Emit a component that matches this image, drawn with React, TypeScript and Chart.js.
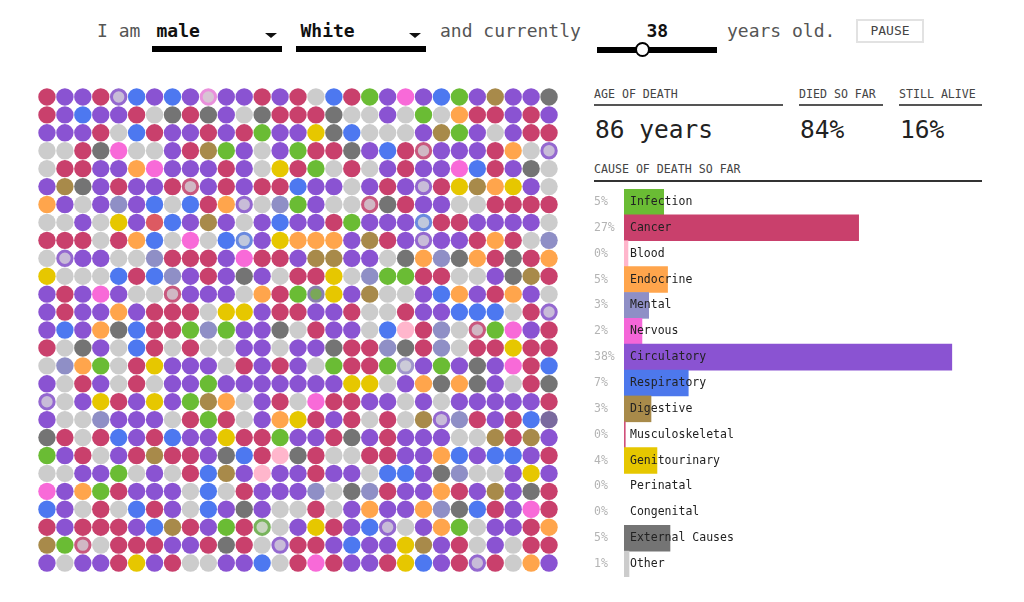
import { useEffect, useRef, CSSProperties } from 'react'
import { Chart, registerables } from 'chart.js'

Chart.register(...registerables)

const MONO = '"DejaVu Sans Mono", monospace'

// one letter per dot, lowercase = dying right now (ring)
const gridRows = [
  'KCCKcBCBCnCCKCKGBKICNCBICDCCX',
  'KCBCCKGXKXCGXKKKXGGCGIGEKKCKC',
  'CCCKGBKCCKCKICCUXBGGGCDICGCKK',
  'GGKXNGGCKDICGCIKKXCBKkCCCKEGc',
  'GKKCCENCCCKCGUKIGKGCKCCNBKCXG',
  'CDXCKCCKkCKCKKBCCGCKCcKUDEUCG',
  'ECGCMCBGBKEcGMICGGkXKCCGGKKKK',
  'GGCGUCRBCDCGCBCCKICCCbKKCCCCG',
  'KKKGKEBGNGBbCUEEECDKCcCCKEKGM',
  'GcCCGGMKKKCNKKCDDCCGXEMXEKXKE',
  'UGGGBKBMCKCXCGKKUGMIIKKGGCXDK',
  'CKCNCGGkCCCGEKIhUCDGGCBECKECG',
  'CKCCECKKKGUUCKKCCKGGKCCBBBGKc',
  'CBCEXBKKIMICCXGKCCGBLKMGkINCK',
  'KGXCGBKGKGGCCGCCXKKMXKMGKKUKK',
  'GMEIGKUCCCGKCKCGIKKImCICXCNKB',
  'CGKCGKGCCICCCCCCCUUGCEXEXCGKX',
  'cGCUKCUCIDEGCKGNKKCCGCGCCCCCK',
  'CGGMCCCGKIKGCEUKCKGKGDcMKCKBQ',
  'XKGKBCKBCCUKKICCKXCKCCCGGDKDC',
  'ICKGCKDKKCXBKLXKGGKKCCEBCBBCK',
  'GGCCIGCGKBDCLCCKCCGBBCXMGGCUC',
  'NCEIKCCCGBGKCCCMGXMKCCEKCDCXK',
  'BCGKGBKCGBCXCGGKGCECCEMXBKCNK',
  'KCKKKCBDKCIKiGCUKCBcGCEIGCCKE',
  'DIkGKKKCCKXKGcKKCBCCUDCKGCGKK',
  'CGCCKUCKGGCCBGKNKCCKUBCKcKGEC',
]

const causes = [
  'Infection', 'Cancer', 'Blood', 'Endocrine', 'Mental', 'Nervous', 'Circulatory', 'Respiratory',
  'Digestive', 'Musculoskeletal', 'Genitourinary', 'Perinatal', 'Congenital', 'External Causes', 'Other',
]
const causeShares = [4.6, 27.2, 0.46, 5.05, 2.86, 2.08, 38, 7.45, 3.13, 0.15, 3.82, 0, 0, 5.33, 0.58]
const causeLabels = ['5%', '27%', '0%', '5%', '3%', '2%', '38%', '7%', '3%', '0%', '4%', '0%', '0%', '5%', '1%']
const causeColors = [
  '#6abc34', '#c9406c', '#ffb6cc', '#ffa54c', '#8f8fc6', '#f466d8', '#8a53d2', '#4d78ec',
  '#a88a4a', '#d0507a', '#e6c700', 'transparent', 'transparent', '#747474', '#cccccc',
]

const dotFill: Record<string, string> = {
  K: '#c9406c', C: '#8a53d2', G: '#cccccc', B: '#4d78f0', I: '#6abc34', E: '#ffa54c', M: '#8f8fc6',
  N: '#f86ad8', D: '#a88a4a', U: '#e6c700', X: '#747474', L: '#ffb6cc', R: '#dd5a62', Q: '#7a6a9e',
  c: '#c8bcd8', k: '#d0b8c4', n: '#d8c4d4', b: '#c0c8dc', i: '#c8d4c0', h: '#7aa858', m: '#cccbd8',
}
const dotRing: Record<string, string> = {
  c: '#9468d0', k: '#c9587e', n: '#ea90dc', b: '#6a8ae0', i: '#78b45c', h: '#8a7fb0', m: '#a096cc',
}

const percentPlugin = {
  id: 'percentLabels',
  afterDraw(chart: Chart) {
    const { ctx, chartArea, scales } = chart
    ctx.save()
    ctx.font = '11.5px ' + MONO
    ctx.fillStyle = '#b4b4b4'
    ctx.textBaseline = 'middle'
    ctx.textAlign = 'left'
    causeLabels.forEach((label, i) => {
      ctx.fillText(label, chartArea.left - 30, scales.y.getPixelForTick(i))
    })
    ctx.restore()
  },
}

const at = (left: number, top: number, extra: CSSProperties = {}): CSSProperties => ({
  position: 'absolute',
  left,
  top,
  whiteSpace: 'pre',
  fontFamily: MONO,
  ...extra,
})

const sentence: CSSProperties = { fontSize: 18, lineHeight: '24px', color: '#555' }
const picked: CSSProperties = { fontSize: 18, lineHeight: '24px', color: '#111', fontWeight: 'bold' }
const heading: CSSProperties = { fontSize: 11.6, lineHeight: '14px', color: '#444' }
const bigStat: CSSProperties = { fontSize: 24.5, lineHeight: '30px', color: '#222' }

function Select({ x, label }: { x: number; label: string }) {
  return (
    <>
      <div style={at(x + 4.5, 19, picked)}>{label}</div>
      <div
        style={{
          position: 'absolute', left: x + 113, top: 33, width: 0, height: 0,
          borderLeft: '6.5px solid transparent', borderRight: '6.5px solid transparent', borderTop: '5.5px solid #111',
        }}
      />
      <div style={{ position: 'absolute', left: x, top: 46, width: 130, height: 6, background: '#000' }} />
    </>
  )
}

export default function App() {
  const dotsRef = useRef<HTMLCanvasElement>(null)
  const barsRef = useRef<HTMLCanvasElement>(null)

  useEffect(() => {
    const codes: string[] = []
    const points: { x: number; y: number }[] = []
    gridRows.forEach((row, y) => {
      row.split('').forEach((code, x) => {
        codes.push(code)
        points.push({ x, y })
      })
    })

    const dots = new Chart(dotsRef.current!, {
      type: 'scatter',
      data: {
        datasets: [{
          data: points,
          pointBackgroundColor: codes.map((c) => dotFill[c]),
          pointBorderColor: codes.map((c) => dotRing[c] || dotFill[c]),
          pointBorderWidth: codes.map((c) => (dotRing[c] ? 3 : 0)),
          pointRadius: codes.map((c) => (dotRing[c] ? 7.2 : 8.7)),
        }],
      },
      options: {
        responsive: false,
        animation: false,
        layout: { padding: 0, autoPadding: false },
        plugins: { legend: { display: false }, tooltip: { enabled: false } },
        scales: {
          x: { type: 'linear', min: -0.5, max: 28.5, display: false },
          y: { type: 'linear', min: -0.5, max: 26.5, reverse: true, display: false },
        },
      },
    })

    const bars = new Chart(barsRef.current!, {
      type: 'bar',
      data: {
        labels: causes,
        datasets: [{
          data: causeShares,
          backgroundColor: causeColors,
          barPercentage: 1,
          categoryPercentage: 1,
          borderWidth: 0,
        }],
      },
      options: {
        indexAxis: 'y',
        responsive: false,
        animation: false,
        layout: { padding: { left: 30, top: 0, right: 0, bottom: 0 }, autoPadding: false },
        plugins: { legend: { display: false }, tooltip: { enabled: false } },
        scales: {
          x: { type: 'linear', min: 0, max: 41.5, display: false },
          y: {
            type: 'category',
            grid: { display: false, drawTicks: false },
            border: { display: false },
            afterFit(scale) {
              scale.width = 0
              scale.paddingTop = 0
              scale.paddingBottom = 0
            },
            ticks: {
              mirror: true,
              z: 1,
              padding: 6,
              autoSkip: false,
              color: '#222',
              font: { family: MONO, size: 11.5 },
            },
          },
        },
      },
      plugins: [percentPlugin],
    })

    return () => {
      dots.destroy()
      bars.destroy()
    }
  }, [])

  return (
    <div style={{ position: 'absolute', left: 0, top: 0, width: 1024, height: 602, background: '#fff', overflow: 'hidden' }}>
      <div style={at(97, 19, sentence)}>I am</div>
      <Select x={152} label="male" />
      <Select x={296} label="White" />
      <div style={at(440, 19, sentence)}>and currently</div>
      <div style={at(646.5, 19, picked)}>38</div>
      <div style={{ position: 'absolute', left: 597, top: 47, width: 120, height: 6, background: '#000' }} />
      <div
        style={{
          position: 'absolute', left: 635, top: 42, width: 11, height: 11, boxSizing: 'content-box',
          background: '#fff', border: '2px solid #000', borderRadius: '50%',
        }}
      />
      <div style={at(727, 19, sentence)}>years old.</div>
      <div
        style={at(856, 19, {
          width: 68, height: 24, boxSizing: 'border-box', border: '2px solid #e2e2e2', textAlign: 'center',
          fontSize: 13, lineHeight: '20px', color: '#444',
        })}
      >
        PAUSE
      </div>

      <canvas ref={dotsRef} width={520} height={484} style={{ position: 'absolute', left: 38, top: 88 }} />

      <div style={at(594, 87, heading)}>AGE OF DEATH</div>
      <div style={{ position: 'absolute', left: 594, top: 104, width: 189, height: 2, background: '#555' }} />
      <div style={at(799, 87, heading)}>DIED SO FAR</div>
      <div style={{ position: 'absolute', left: 799, top: 104, width: 84, height: 2, background: '#555' }} />
      <div style={at(899, 87, heading)}>STILL ALIVE</div>
      <div style={{ position: 'absolute', left: 899, top: 104, width: 83, height: 2, background: '#555' }} />
      <div style={at(595, 115, bigStat)}>86 years</div>
      <div style={at(800, 115, bigStat)}>84%</div>
      <div style={at(900, 115, bigStat)}>16%</div>
      <div style={at(594, 162, heading)}>CAUSE OF DEATH SO FAR</div>
      <div style={{ position: 'absolute', left: 594, top: 180, width: 388, height: 1.5, background: '#333' }} />

      <canvas ref={barsRef} width={388} height={388} style={{ position: 'absolute', left: 594, top: 189 }} />
    </div>
  )
}
